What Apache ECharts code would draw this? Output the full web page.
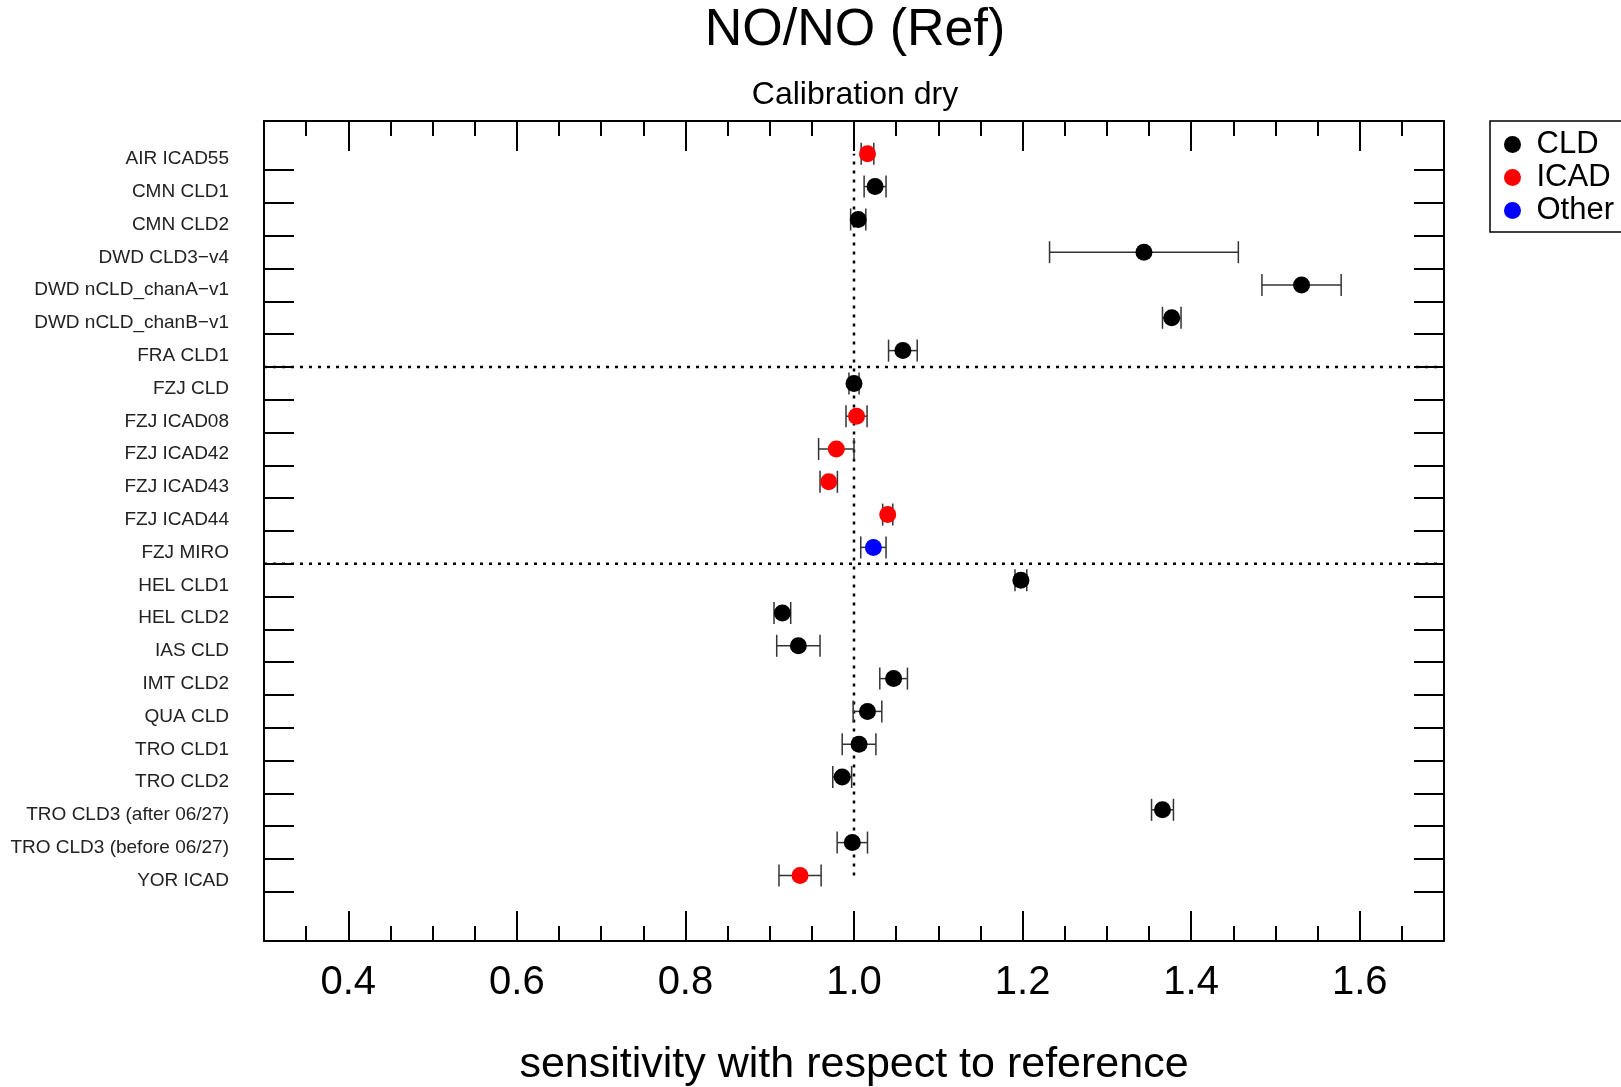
<!DOCTYPE html>
<html><head><meta charset="utf-8">
<script src="https://cdn.jsdelivr.net/npm/echarts@6/dist/echarts.min.js"></script>
<style>html,body{margin:0;padding:0;background:#fff}#c{width:1621px;height:1087px}</style>
</head><body><div id="c"></div>
<script>
// ---- data (top to bottom as in the chart) ----
const categories = ['AIR ICAD55','CMN CLD1','CMN CLD2','DWD CLD3\u2212v4','DWD nCLD_chanA\u2212v1','DWD nCLD_chanB\u2212v1','FRA CLD1','FZJ CLD','FZJ ICAD08','FZJ ICAD42','FZJ ICAD43','FZJ ICAD44','FZJ MIRO','HEL CLD1','HEL CLD2','IAS CLD','IMT CLD2','QUA CLD','TRO CLD1','TRO CLD2','TRO CLD3 (after 06/27)','TRO CLD3 (before 06/27)','YOR ICAD'];
const values = [1.016, 1.025, 1.005, 1.344, 1.531, 1.377, 1.058, 1.000, 1.003, 0.979, 0.970, 1.040, 1.023, 1.198, 0.915, 0.934, 1.047, 1.016, 1.006, 0.986, 1.366, 0.998, 0.936];
const errors = [0.0075, 0.013, 0.009, 0.112, 0.047, 0.011, 0.017, 0.006, 0.0125, 0.021, 0.0103, 0.006, 0.015, 0.007, 0.0099, 0.0257, 0.0164, 0.017, 0.020, 0.0112, 0.013, 0.018, 0.025];
const types = ['ICAD','CLD','CLD','CLD','CLD','CLD','CLD','CLD','ICAD','ICAD','ICAD','ICAD','Other','CLD','CLD','CLD','CLD','CLD','CLD','CLD','CLD','CLD','ICAD'];
const typeNames = ['CLD','ICAD','Other'];
const typeColors = {CLD:'#000000', ICAD:'#ff0000', Other:'#0000ff'};
const groupEndsAfter = ['FRA CLD1','FZJ MIRO'];   // dotted separators below these rows
const refValue = 1.0;
const xMajorLabels = ['0.4','0.6','0.8','1.0','1.2','1.4','1.6'];
const xMinorTicks = [0.35,0.45,0.5,0.55,0.65,0.7,0.75,0.85,0.9,0.95,1.05,1.1,1.15,1.25,1.3,1.35,1.45,1.5,1.55,1.65];
const titleText = 'NO/NO (Ref)';
const subtitleText = 'Calibration dry';
const xName = 'sensitivity with respect to reference';

// ---- derived ----
const N = categories.length;
const yPos = i => N - i;
const xMajor = xMajorLabels.map(parseFloat);
const yLabelVals = categories.map((c, i) => yPos(i) - 0.16);
const yTickVals = categories.map((c, i) => yPos(i) - 0.5);
const sepY = groupEndsAfter.map(n => yPos(categories.indexOf(n)) - 0.5);
const FONT = '"Liberation Sans", Arial, Helvetica, sans-serif';

const chart = echarts.init(document.getElementById('c'), null, {renderer:'canvas'});

const errData = values.map((v, i) => [v, errors[i], yPos(i)]);
const scatterSeries = typeNames.map(t => ({
  name: t, type: 'scatter', xAxisIndex: 0, yAxisIndex: 0,
  symbol: 'circle', symbolSize: 17, z: 5,
  itemStyle: {color: typeColors[t], opacity: 1},
  emphasis: {disabled: true},
  data: values.map((v, i) => types[i] === t ? [v, yPos(i)] : null).filter(d => d)
}));

const dotted = {color:'#000', width: 2.5, type: [3, 6]};
const lineSeries = [];
lineSeries.push({type:'line', xAxisIndex:0, yAxisIndex:0, symbol:'none', silent:true, z:1,
  lineStyle: dotted, data: [[refValue, yPos(N-1)], [refValue, yPos(0)]]});
sepY.forEach(y => lineSeries.push({type:'line', xAxisIndex:0, yAxisIndex:0, symbol:'none', silent:true, z:1,
  lineStyle: dotted, data: [[0.3, y], [1.7, y]]}));

const gridRect = {left: 264, top: 121, width: 1180, height: 820, containLabel:false, outerBoundsMode:'none'};
const axLine = {show:true, onZero:false, lineStyle:{color:'#000', width:2}};
const noLine = {show:false, onZero:false};
const xBase = {type:'value', min:0.3, max:1.7, splitLine:{show:false}};
const yBase = {type:'value', min:-1, max:24, splitLine:{show:false}};
const hiddenY = g => Object.assign({}, yBase, {gridIndex:g, show:false, axisLine: noLine});
const tick = (len, vals) => ({show:true, inside:true, length:len, lineStyle:{color:'#000', width:2}, customValues: vals});

const option = {
  backgroundColor: '#fff',
  animation: false,
  title: [
    {text: titleText, left: 855, top: 5, textAlign: 'center', padding: 0,
     textStyle:{fontFamily: FONT, fontSize: 52, fontWeight:'normal', color:'#000'}},
    {text: subtitleText, left: 855, top: 79, textAlign: 'center', padding: 0,
     textStyle:{fontFamily: FONT, fontSize: 32, fontWeight:'normal', color:'#000'}}
  ],
  legend: {
    orient:'vertical', left: 1504, top: 129, padding: 0, itemGap: 2,
    itemWidth: 38, itemHeight: 17, icon:'circle', selectedMode:false,
    data: typeNames,
    textStyle:{fontFamily: FONT, fontSize: 31, color:'#000', lineHeight: 30.5}
  },
  graphic: [{type:'rect', shape:{x:1490, y:121, width:200, height:111},
    style:{fill:'none', stroke:'#000', lineWidth:1.5}, silent:true}],
  grid: [gridRect, gridRect, gridRect, gridRect],
  xAxis: [
    Object.assign({}, xBase, {gridIndex:0, position:'bottom', axisLine: axLine,
      axisTick: tick(30, xMajor),
      axisLabel:{show:true, customValues: xMajor, formatter: v => xMajorLabels[xMajor.indexOf(v)] || v.toFixed(1),
        fontFamily: FONT, fontSize: 40, color:'#000', margin: 22},
      name: xName, nameLocation:'middle', nameGap: 103,
      nameTextStyle:{fontFamily: FONT, fontSize: 43, color:'#000'}}),
    Object.assign({}, xBase, {gridIndex:1, position:'bottom', axisLine: noLine,
      axisTick: tick(15, xMinorTicks), axisLabel:{show:false}}),
    Object.assign({}, xBase, {gridIndex:2, position:'top', axisLine: axLine,
      axisTick: tick(30, xMajor), axisLabel:{show:false}}),
    Object.assign({}, xBase, {gridIndex:3, position:'top', axisLine: noLine,
      axisTick: tick(15, xMinorTicks), axisLabel:{show:false}})
  ],
  yAxis: [
    Object.assign({}, yBase, {gridIndex:0, position:'left', axisLine: axLine,
      axisTick: tick(30, yTickVals),
      axisLabel:{show:true, customValues: yLabelVals, formatter: v => categories[N - Math.round(v)],
        fontFamily: FONT, fontSize: 19, color:'#222', margin: 35}}),
    Object.assign({}, yBase, {gridIndex:0, position:'right', axisLine: axLine,
      axisTick: tick(30, yTickVals), axisLabel:{show:false}}),
    hiddenY(1), hiddenY(2), hiddenY(3)
  ],
  series: [
    {type:'custom', xAxisIndex:0, yAxisIndex:0, z:3, silent:true,
     encode:{x:0, y:2},
     renderItem: (params, api) => {
       const v = api.value(0), e = api.value(1), y = api.value(2);
       const a = api.coord([v - e, y]), b = api.coord([v + e, y]);
       const h = 11, st = {stroke:'#333', lineWidth:1.5};
       return {type:'group', children:[
         {type:'line', shape:{x1:a[0], y1:a[1], x2:b[0], y2:b[1]}, style:st},
         {type:'line', shape:{x1:a[0], y1:a[1]-h, x2:a[0], y2:a[1]+h}, style:st},
         {type:'line', shape:{x1:b[0], y1:b[1]-h, x2:b[0], y2:b[1]+h}, style:st}
       ]};
     },
     data: errData}
  ].concat(lineSeries).concat(scatterSeries)
};
chart.setOption(option);
</script>
</body></html>
